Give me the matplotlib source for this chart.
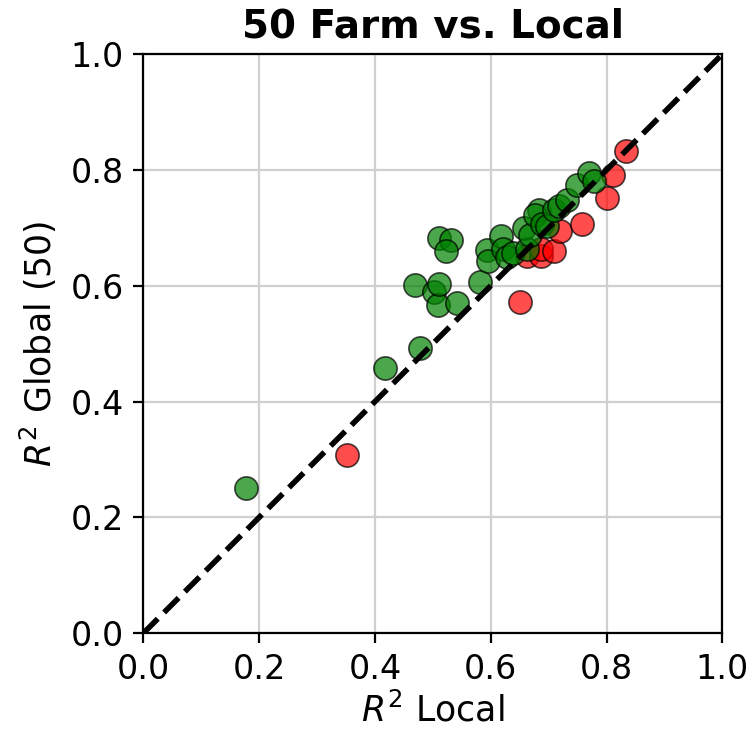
import matplotlib
matplotlib.use("Agg")
import matplotlib.pyplot as plt

# R^2 values
better_x = [0.178, 0.418, 0.478, 0.470, 0.502, 0.509, 0.510, 0.510, 0.532, 0.523,
            0.541, 0.582, 0.593, 0.596, 0.617, 0.622, 0.628, 0.638, 0.662, 0.657,
            0.668, 0.683, 0.677, 0.688, 0.697, 0.709, 0.718, 0.732, 0.749, 0.769,
            0.778]
better_y = [0.251, 0.458, 0.492, 0.602, 0.589, 0.567, 0.604, 0.682, 0.679, 0.660,
            0.571, 0.606, 0.662, 0.643, 0.686, 0.663, 0.650, 0.657, 0.664, 0.700,
            0.688, 0.731, 0.722, 0.706, 0.703, 0.731, 0.737, 0.748, 0.774, 0.795,
            0.781]
worse_x = [0.351, 0.650, 0.662, 0.686, 0.686, 0.709, 0.720, 0.757, 0.801, 0.812, 0.834]
worse_y = [0.308, 0.572, 0.652, 0.651, 0.663, 0.660, 0.694, 0.706, 0.751, 0.792, 0.833]

fig = plt.figure(figsize=(3.77, 3.645), dpi=200)
ax = fig.add_axes([0.19, 0.131, 0.768, 0.795])

ax.scatter(worse_x, worse_y, s=70, c="red", alpha=0.7, edgecolors="black", linewidths=0.6, zorder=3)
ax.scatter(better_x, better_y, s=70, c="green", alpha=0.7, edgecolors="black", linewidths=0.6, zorder=3)
ax.plot([0, 1], [0, 1], "k--", lw=2, zorder=4)

ax.set_xlim(0, 1)
ax.set_ylim(0, 1)
ax.set_aspect("equal")
ax.grid(True, color="#d0d0d0", lw=0.8)
ax.set_axisbelow(True)
ax.tick_params(labelsize=12)
ax.set_xlabel("$R^2$ Local", fontsize=12.5, labelpad=2.5)
ax.set_ylabel("$R^2$ Global (50)", fontsize=12.5)
ax.set_title("50 Farm vs. Local", fontsize=14, fontweight="bold")

fig.savefig("out.png", dpi=200)
